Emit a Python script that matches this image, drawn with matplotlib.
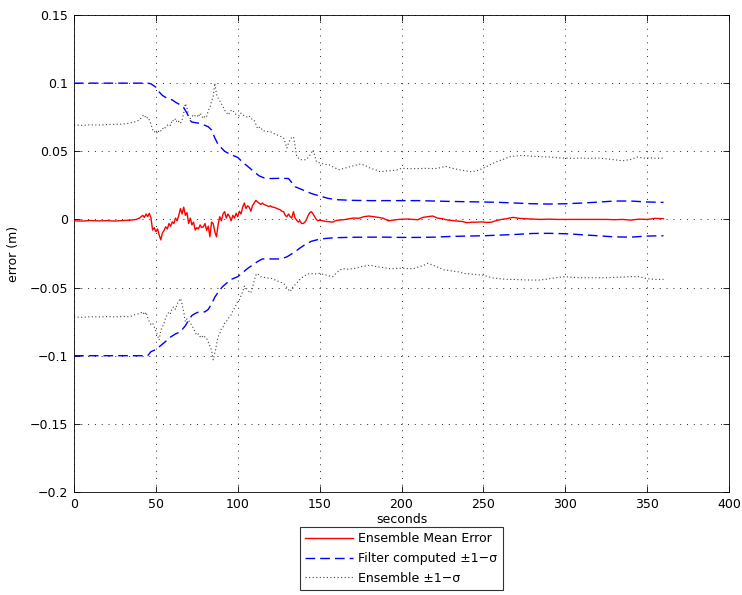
import matplotlib
matplotlib.use("Agg")
import matplotlib.pyplot as plt

plt.rcParams['font.family'] = ['DejaVu Sans']

# ---------------- data ----------------
t_err = [0, 5, 10, 15, 20, 25, 30, 35, 38, 40, 42, 43, 44, 45, 46, 47, 48, 49, 50, 51, 52, 53, 54, 55, 56,
         57, 58, 59, 60, 61, 62, 63, 64, 65, 66, 67, 68, 69, 70, 71, 72, 73, 74, 75, 76, 77, 78, 79, 80,
         81, 82, 83, 84, 85, 86, 87, 88, 89, 90, 91, 92, 93, 94, 95, 96, 97, 98, 99, 100, 101, 102, 103,
         104, 105, 106, 107, 108, 109, 110, 111, 112, 113, 114, 115, 116, 117, 118, 119, 120, 121, 122,
         123, 124, 125, 126, 127, 128, 129, 130, 131, 132, 133, 134, 135, 136, 137, 138, 139, 140, 141,
         142, 143, 144, 145, 146, 147, 148, 149, 150, 152, 154, 156, 158, 160, 162, 164, 166, 168, 171,
         174, 177, 180, 183, 186, 189, 192, 195, 198, 201, 204, 207, 210, 213, 216, 219, 222, 225, 228,
         231, 234, 237, 240, 243, 246, 249, 252, 255, 258, 261, 264, 268, 272, 276, 280, 285, 290, 295,
         300, 305, 310, 315, 320, 325, 330, 335, 340, 345, 350, 355, 360]
mean_err = [-0.0010, -0.0012, -0.0008, -0.0011, -0.0009, -0.0012, -0.0008, -0.0005, 0.0000, 0.0010,
            0.0030, 0.0015, 0.0040, 0.0020, 0.0045, 0.0010, -0.0078, -0.0060, -0.0090, -0.0070, -0.0114,
            -0.0150, -0.0100, -0.0080, -0.0054, -0.0070, -0.0030, -0.0050, -0.0017, -0.0030, 0.0010,
            -0.0010, 0.0030, 0.0080, 0.0040, 0.0090, 0.0030, 0.0050, -0.0030, 0.0010, -0.0040, -0.0020,
            -0.0078, -0.0060, -0.0070, -0.0040, -0.0060, -0.0054, -0.0030, -0.0080, -0.0050, -0.0127,
            -0.0020, -0.0030, -0.0090, -0.0127, -0.0040, 0.0020, -0.0010, 0.0040, 0.0057, 0.0010, 0.0040,
            0.0020, -0.0010, 0.0030, 0.0010, 0.0045, 0.0020, 0.0060, 0.0040, 0.0090, 0.0120, 0.0080,
            0.0100, 0.0090, 0.0060, 0.0100, 0.0120, 0.0140, 0.0130, 0.0120, 0.0110, 0.0120, 0.0110,
            0.0105, 0.0100, 0.0095, 0.0100, 0.0090, 0.0090, 0.0085, 0.0080, 0.0075, 0.0070, 0.0060,
            0.0057, 0.0030, 0.0020, 0.0040, 0.0020, 0.0010, 0.0057, 0.0010, -0.0005, -0.0020, -0.0010,
            -0.0030, -0.0030, -0.0020, 0.0000, 0.0030, 0.0050, 0.0057, 0.0040, 0.0020, 0.0000, -0.0010,
            -0.0005, -0.0010, -0.0015, -0.0017, -0.0020, -0.0008, -0.0005, -0.0003, 0.0000, 0.0005,
            0.0010, 0.0008, 0.0020, 0.0025, 0.0020, 0.0015, 0.0008, -0.0010, -0.0005, 0.0000, 0.0002,
            0.0003, 0.0000, -0.0002, 0.0015, 0.0020, 0.0025, 0.0010, 0.0005, -0.0004, -0.0008, -0.0012,
            -0.0015, -0.0024, -0.0020, -0.0020, -0.0018, -0.0022, -0.0020, -0.0008, 0.0000, 0.0005,
            0.0015, 0.0008, 0.0005, 0.0003, 0.0000, 0.0002, 0.0000, 0.0000, 0.0000, 0.0000, 0.0000,
            0.0000, 0.0000, -0.0002, 0.0000, -0.0005, 0.0002, 0.0000, 0.0008, 0.0005]

t_filt_up = [0, 45, 47, 48, 50, 52, 54, 56, 58, 60, 62, 65, 67, 69, 71, 72, 74, 76, 80, 82, 84, 86, 88,
             90, 92, 94, 97, 100, 103, 106, 110, 113, 116, 120, 126, 131, 133, 135, 138, 141, 145, 150,
             155, 160, 170, 180, 190, 200, 210, 220, 230, 240, 250, 260, 270, 280, 290, 300, 310, 320,
             330, 340, 350, 360]
filt_up = [0.1, 0.1, 0.0995, 0.0987, 0.097, 0.0935, 0.091, 0.0895, 0.0885, 0.0877, 0.086, 0.084, 0.082,
           0.078, 0.0725, 0.0715, 0.071, 0.0707, 0.069, 0.068, 0.0656, 0.0598, 0.055, 0.0525, 0.050,
           0.0487, 0.047, 0.0455, 0.042, 0.039, 0.035, 0.032, 0.0305, 0.030, 0.0302, 0.030, 0.027, 0.024,
           0.0225, 0.021, 0.019, 0.0172, 0.0155, 0.0145, 0.014, 0.0138, 0.0138, 0.0138, 0.0138, 0.0135,
           0.0132, 0.013, 0.0128, 0.0125, 0.012, 0.0115, 0.0113, 0.0115, 0.012, 0.0127, 0.0135, 0.0135,
           0.0128, 0.0125]

t_filt_lo = [0, 45, 47, 50, 52, 54, 56, 58, 60, 62, 65, 68, 70, 72, 74, 76, 80, 82, 84, 86, 89, 91, 93,
             96, 100, 103, 106, 109, 112, 115, 120, 126, 130, 132, 135, 138, 141, 145, 150, 155, 160, 170,
             180, 190, 200, 210, 220, 230, 240, 250, 260, 270, 280, 290, 300, 310, 320, 330, 340, 350, 360]
filt_lo = [-0.1, -0.1, -0.097, -0.0955, -0.0935, -0.0915, -0.0895, -0.087, -0.0855, -0.084, -0.0824,
           -0.078, -0.0739, -0.0705, -0.069, -0.068, -0.0678, -0.066, -0.062, -0.057, -0.0518, -0.049,
           -0.047, -0.044, -0.042, -0.039, -0.036, -0.0335, -0.031, -0.029, -0.029, -0.029, -0.0275,
           -0.026, -0.0237, -0.021, -0.0185, -0.016, -0.0145, -0.0138, -0.0134, -0.0131, -0.013, -0.013,
           -0.0132, -0.0132, -0.013, -0.0125, -0.0122, -0.012, -0.0115, -0.011, -0.0103, -0.0102, -0.0105,
           -0.0112, -0.012, -0.0128, -0.013, -0.0122, -0.012]

t_ens_up = [0, 5, 10, 15, 20, 25, 30, 34, 37, 40, 42, 43, 44, 45, 46, 47, 48, 49, 50, 51, 52, 53, 54, 55,
            56, 57, 58, 59, 60, 61, 62, 63, 64, 65, 66, 67, 68, 69, 70, 71, 72, 73, 74, 75, 76, 77, 78,
            79, 80, 81, 82, 83, 84, 85, 86, 87, 88, 89, 90, 91, 92, 93, 94, 95, 96, 97, 98, 99, 100, 101,
            102, 103, 104, 105, 106, 107, 108, 109, 110, 111, 112, 113, 114, 115, 116, 118, 120, 122, 124,
            126, 128, 129, 130, 131, 132, 133, 134, 135, 136, 137, 138, 140, 142, 144, 146, 147, 148, 150,
            153, 156, 159, 162, 165, 168, 171, 175, 178, 181, 184, 187, 190, 194, 197, 200, 205, 210, 215,
            220, 224, 227, 230, 235, 240, 243, 247, 250, 254, 258, 262, 266, 270, 274, 278, 282, 286, 290,
            295, 300, 305, 310, 315, 320, 325, 330, 335, 340, 344, 348, 352, 356, 360]
ens_up = [0.0693, 0.0690, 0.0695, 0.0692, 0.0696, 0.0698, 0.0700, 0.0707, 0.0715, 0.0730, 0.0760, 0.0767,
          0.0740, 0.0750, 0.0730, 0.0700, 0.0660, 0.0640, 0.0650, 0.0630, 0.0656, 0.0650, 0.0670, 0.0660,
          0.0680, 0.0690, 0.0700, 0.0690, 0.0730, 0.0720, 0.0740, 0.0710, 0.0720, 0.0705, 0.0730, 0.0780,
          0.0850, 0.0820, 0.0760, 0.0740, 0.0754, 0.0770, 0.0760, 0.0767, 0.0750, 0.0780, 0.0760, 0.0740,
          0.0760, 0.0754, 0.0800, 0.0820, 0.0870, 0.0900, 0.1000, 0.0920, 0.0890, 0.0870, 0.0850, 0.0828,
          0.0800, 0.0790, 0.0767, 0.0780, 0.0800, 0.0803, 0.0780, 0.0770, 0.0767, 0.0760, 0.0780, 0.0770,
          0.0760, 0.0754, 0.0750, 0.0760, 0.0740, 0.0735, 0.0730, 0.0700, 0.0670, 0.0680, 0.0660, 0.0665,
          0.0650, 0.0645, 0.0644, 0.0630, 0.0620, 0.0610, 0.0598, 0.0560, 0.0524, 0.0560, 0.0590, 0.0600,
          0.0607, 0.0540, 0.0460, 0.0450, 0.0440, 0.0436, 0.0440, 0.0470, 0.0510, 0.0470, 0.0424, 0.0415,
          0.0405, 0.0400, 0.0380, 0.0365, 0.0375, 0.0385, 0.0395, 0.0407, 0.0395, 0.0375, 0.0365, 0.0350,
          0.0355, 0.0358, 0.0363, 0.0375, 0.0372, 0.0373, 0.0375, 0.0372, 0.0380, 0.0390, 0.0378, 0.0365,
          0.0355, 0.0350, 0.0360, 0.0377, 0.0400, 0.0424, 0.0440, 0.0460, 0.0465, 0.0470, 0.0465, 0.0462,
          0.0460, 0.0458, 0.0452, 0.0450, 0.0448, 0.0450, 0.0448, 0.0450, 0.0445, 0.0438, 0.0430, 0.0440,
          0.0458, 0.0450, 0.0452, 0.0448, 0.0450]

t_ens_lo = [0, 5, 10, 15, 20, 25, 30, 34, 37, 40, 42, 43, 44, 45, 46, 47, 48, 49, 50, 51, 52, 53, 54, 55,
            56, 57, 58, 59, 60, 61, 62, 63, 64, 65, 66, 67, 68, 69, 70, 71, 72, 73, 74, 75, 76, 77, 78,
            79, 80, 81, 82, 83, 84, 85, 86, 87, 88, 89, 90, 91, 92, 93, 94, 95, 96, 97, 98, 99, 100, 101,
            102, 103, 104, 105, 106, 107, 108, 109, 110, 111, 112, 113, 114, 116, 118, 120, 122, 124, 126,
            128, 130, 132, 133, 134, 136, 138, 140, 142, 144, 147, 150, 153, 156, 158, 161, 164, 167, 170,
            173, 176, 179, 181, 184, 187, 190, 193, 196, 200, 204, 207, 210, 213, 216, 218, 221, 224, 226,
            229, 232, 235, 238, 242, 246, 250, 253, 256, 260, 264, 268, 272, 276, 280, 284, 288, 292, 296,
            300, 305, 310, 315, 320, 325, 330, 335, 340, 345, 350, 355, 360]
ens_lo = [-0.0716, -0.0718, -0.0714, -0.0716, -0.0713, -0.0715, -0.0712, -0.0714, -0.0700, -0.0690,
          -0.0677, -0.0700, -0.0680, -0.0720, -0.0750, -0.0770, -0.0760, -0.0788, -0.0820, -0.0850,
          -0.0885, -0.0810, -0.0790, -0.0760, -0.0720, -0.0700, -0.0677, -0.0690, -0.0650, -0.0640,
          -0.0660, -0.0620, -0.0600, -0.0580, -0.0620, -0.0680, -0.0750, -0.0730, -0.0740, -0.0760,
          -0.0780, -0.0800, -0.0830, -0.0850, -0.0840, -0.0860, -0.0850, -0.0870, -0.0860, -0.0873,
          -0.0900, -0.0930, -0.0959, -0.1030, -0.0980, -0.0920, -0.0860, -0.0840, -0.0800, -0.0790,
          -0.0760, -0.0750, -0.0730, -0.0714, -0.0700, -0.0670, -0.0650, -0.0628, -0.0600, -0.0590,
          -0.0560, -0.0530, -0.0490, -0.0500, -0.0520, -0.0530, -0.0540, -0.0500, -0.0450, -0.0410,
          -0.0396, -0.0410, -0.0420, -0.0425, -0.0430, -0.0430, -0.0440, -0.0450, -0.0460, -0.0470,
          -0.0500, -0.0530, -0.0510, -0.0490, -0.0470, -0.0440, -0.0420, -0.0405, -0.0396, -0.0400,
          -0.0396, -0.0405, -0.0415, -0.0420, -0.0385, -0.0360, -0.0365, -0.0362, -0.0355, -0.0345,
          -0.0340, -0.0335, -0.0345, -0.0350, -0.0355, -0.0362, -0.0360, -0.0358, -0.0360, -0.0362,
          -0.0350, -0.0340, -0.0322, -0.0330, -0.0345, -0.0360, -0.0370, -0.0375, -0.0380, -0.0385,
          -0.0396, -0.0400, -0.0405, -0.0410, -0.0420, -0.0430, -0.0435, -0.0440, -0.0440, -0.0442,
          -0.0444, -0.0445, -0.0445, -0.0440, -0.0432, -0.0425, -0.0420, -0.0425, -0.0428, -0.0428,
          -0.0428, -0.0428, -0.0425, -0.0423, -0.0420, -0.0420, -0.0435, -0.0440, -0.0440]

x_ticks = [0, 50, 100, 150, 200, 250, 300, 350, 400]
y_ticks = [-0.2, -0.15, -0.1, -0.05, 0, 0.05, 0.1, 0.15]
y_tick_labels = ['\u22120.2', '\u22120.15', '\u22120.1', '\u22120.05', '0', '0.05', '0.1', '0.15']
legend_labels = ['Ensemble Mean Error', 'Filter computed \u00b11\u2212\u03c3', 'Ensemble \u00b11\u2212\u03c3']

# ---------------- figure ----------------
FS = 9
W, H = 742, 595
fig = plt.figure(figsize=(W / 100, H / 100), dpi=100)
ax = fig.add_axes([74 / W, 1 - 492 / H, (729 - 74) / W, (492 - 15) / H])

l1, = ax.plot(t_err, mean_err, color='red', lw=1.0, zorder=4)
l2, = ax.plot(t_filt_up, filt_up, color='blue', lw=1.0, linestyle=(0, (7, 3.6)), zorder=3)
ax.plot(t_filt_lo, filt_lo, color='blue', lw=1.0, linestyle=(0, (7, 3.6)), zorder=3)
l3, = ax.plot(t_ens_up, ens_up, color='0.25', lw=0.8, linestyle=(0, (1, 2.2)), zorder=2)
ax.plot(t_ens_lo, ens_lo, color='0.25', lw=0.8, linestyle=(0, (1, 2.2)), zorder=2)

ax.set_xlim(0, 400)
ax.set_ylim(-0.2, 0.15)
ax.set_xticks(x_ticks)
ax.set_xticklabels([str(v) for v in x_ticks])
ax.set_yticks(y_ticks)
ax.set_yticklabels(y_tick_labels)
ax.grid(True, color='0.15', linestyle=(0, (1, 6)), linewidth=0.7)
ax.tick_params(direction='in', length=4, width=0.6, top=True, right=True, labelsize=FS, colors='black')
ax.tick_params(axis='y', pad=4)
ax.tick_params(axis='x', pad=4)
for s in ax.spines.values():
    s.set_linewidth(0.6)

ax.set_xlabel('seconds', fontsize=FS, labelpad=2)
ax.set_ylabel('error (m)', fontsize=FS, labelpad=7)

leg = fig.legend([l1, l2, l3], legend_labels, loc='upper center',
                 bbox_to_anchor=(401.5 / W, 1 - 527 / H), fontsize=FS, frameon=True,
                 fancybox=False, edgecolor='black', handlelength=3.8, handletextpad=0.45,
                 borderpad=0.4, labelspacing=0.55, borderaxespad=0)
leg.get_frame().set_linewidth(0.8)

fig.savefig('out.png', dpi=100)
